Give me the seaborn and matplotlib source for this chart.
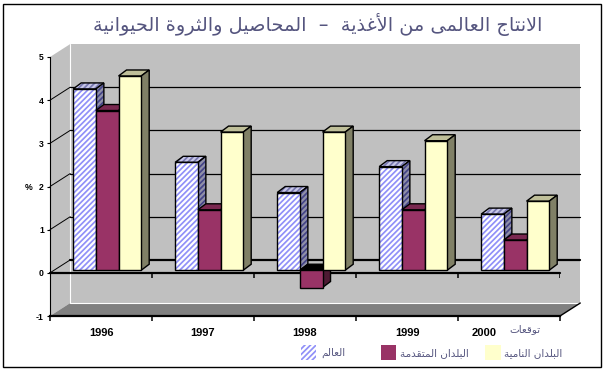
import numpy as np
import pandas as pd
import matplotlib
matplotlib.use("Agg")
import matplotlib.pyplot as plt
from matplotlib.patches import Polygon, Rectangle
from matplotlib.transforms import Affine2D
from matplotlib.ticker import FixedLocator
import seaborn as sns

years = ["1996", "1997", "1998", "1999", "2000"]
world = [4.2, 2.5, 1.8, 2.4, 1.3]
developed = [3.7, 1.4, -0.4, 1.4, 0.7]
developing = [4.5, 3.2, 3.2, 3.0, 1.6]
series_names = ["العالم", "البلدان المتقدمة", "البلدان النامية"]
title_text = "الانتاج العالمى من الأغذية  –  المحاصيل والثروة الحيوانية"
forecast_text = "توقعات"

W, H = 603, 371
TEXT = "#55557f"
HATCH = "//////"


FORMS = {
    "ا": (0xFE8D, 0xFE8E), "أ": (0xFE83, 0xFE84), "ب": (0xFE8F, 0xFE90, 0xFE91, 0xFE92),
    "ة": (0xFE93, 0xFE94), "ت": (0xFE95, 0xFE96, 0xFE97, 0xFE98), "ث": (0xFE99, 0xFE9A, 0xFE9B, 0xFE9C),
    "ج": (0xFE9D, 0xFE9E, 0xFE9F, 0xFEA0), "ح": (0xFEA1, 0xFEA2, 0xFEA3, 0xFEA4),
    "د": (0xFEA9, 0xFEAA), "ذ": (0xFEAB, 0xFEAC), "ر": (0xFEAD, 0xFEAE),
    "ص": (0xFEB9, 0xFEBA, 0xFEBB, 0xFEBC), "ع": (0xFEC9, 0xFECA, 0xFECB, 0xFECC),
    "غ": (0xFECD, 0xFECE, 0xFECF, 0xFED0), "ف": (0xFED1, 0xFED2, 0xFED3, 0xFED4),
    "ق": (0xFED5, 0xFED6, 0xFED7, 0xFED8), "ل": (0xFEDD, 0xFEDE, 0xFEDF, 0xFEE0),
    "م": (0xFEE1, 0xFEE2, 0xFEE3, 0xFEE4), "ن": (0xFEE5, 0xFEE6, 0xFEE7, 0xFEE8),
    "ه": (0xFEE9, 0xFEEA, 0xFEEB, 0xFEEC), "و": (0xFEED, 0xFEEE), "ى": (0xFEEF, 0xFEF0),
    "ي": (0xFEF1, 0xFEF2, 0xFEF3, 0xFEF4),
}
LAM_ALEF = {"ا": (0xFEFB, 0xFEFC), "أ": (0xFEF7, 0xFEF8)}


def shape(text):
    """Contextual Arabic shaping into presentation forms, in visual order."""
    out, i, prev_joins = [], 0, False
    while i < len(text):
        c = text[i]
        if c not in FORMS:
            out.append(c)
            prev_joins = False
            i += 1
            continue
        if c == "ل" and i + 1 < len(text) and text[i + 1] in LAM_ALEF:
            out.append(chr(LAM_ALEF[text[i + 1]][1 if prev_joins else 0]))
            prev_joins = False
            i += 2
            continue
        f = FORMS[c]
        nxt = text[i + 1] if i + 1 < len(text) else ""
        next_joins = len(f) == 4 and nxt in FORMS
        if prev_joins and next_joins:
            g = f[3]
        elif prev_joins:
            g = f[1]
        elif next_joins:
            g = f[2]
        else:
            g = f[0]
        out.append(chr(g))
        prev_joins = next_joins
        i += 1
    return "".join(reversed(out))


sns.set_theme(style="white")
plt.rcParams["font.family"] = ["Liberation Sans", "DejaVu Sans"]
plt.rcParams["hatch.linewidth"] = 1.25

fig = plt.figure(figsize=(W / 100, H / 100), dpi=100, facecolor="white")
ax = fig.add_axes([50 / W, 1 - 316 / H, 510 / W, 259 / H])
ax.patch.set_alpha(0)

df = pd.DataFrame({
    "year": years * 3,
    "series": np.repeat(series_names, 5),
    "value": world + developed + developing,
})
sns.barplot(data=df, x="year", y="value", hue="series", hue_order=series_names,
            palette=["white", "#993366", "#ffffcc"], width=2 / 3, gap=0,
            saturation=1, legend=False, ax=ax)
ax.set_xlim(-0.5, 4.5)
ax.set_ylim(-1, 5)
ax.set_xlabel("")
ax.set_ylabel("")

PX = 1 / 102          # one pixel along x, in category units
PY = 1 / 43.17        # one pixel along y, in value units
DX, DY = 20.3 * PX, 13 * PY      # depth of the box
SX, SY = 6.2 * PX, 2.6 * PY      # front plane of the bars vs axis
BAR_DX, BAR_DY = 8 * PX, 6 * PY  # depth of each bar

x0, x1, y0, y1 = -0.5, 4.5, -1, 5


def poly(pts, z, **kw):
    p = Polygon(pts, closed=True, clip_on=False, zorder=z, **kw)
    ax.add_patch(p)
    return p


# walls and floor
poly([(x0 + DX, y0 + DY), (x1 + DX, y0 + DY), (x1 + DX, y1 + DY), (x0 + DX, y1 + DY)], 0.1, fc="#c0c0c0", lw=0)
poly([(x0, y0), (x0 + DX, y0 + DY), (x0 + DX, y1 + DY), (x0, y1)], 0.1, fc="#c0c0c0", lw=0)
poly([(x0, y0), (x0 + DX, y0 + DY), (x1 + DX, y0 + DY), (x1, y0)], 0.2, fc="#808080", lw=0)
ax.plot([x0 + DX, x0 + DX, x1 + DX], [y1 + DY, y0 + DY, y0 + DY], color="white", lw=0.8, zorder=0.3, clip_on=False)
ax.plot([x1, x1 + DX], [y0, y0 + DY], color="black", lw=1, zorder=0.3, clip_on=False)

# gridlines on the back wall and their slanted continuations on the left wall
for v in range(0, 5):
    lw = 1.6 if v == 0 else 0.9
    ax.plot([x0 + DX, x1 + DX], [v + DY, v + DY], color="black", lw=lw, zorder=0.4, clip_on=False)
    ax.plot([x0, x0 + DX], [v, v + DY], color="black", lw=0.7, zorder=0.4, clip_on=False)

# front zero line with its ticks
ax.plot([x0, x1], [0, 0], color="black", lw=1.6, zorder=1, clip_on=False)
ax.vlines(np.arange(x0, x1 + 1), -5 * PY, 0, color="black", lw=1.1, zorder=1)

STYLES = [
    dict(top=("#c8c8e8", "#7878b0"), side=("#9090a8", "#444488")),
    dict(top=("#7a2850", None), side=("#4d1a33", None)),
    dict(top=("#bfbf99", None), side=("#808066", None)),
]


def face(pts, z, fc, hc):
    if hc:
        poly(pts, z, fc=fc, ec=hc, hatch=HATCH, lw=0)
    else:
        poly(pts, z, fc=fc, lw=0)
    poly(pts, z, fill=False, ec="black", lw=1.0)


for h, cont in enumerate(ax.containers):
    st = STYLES[h]
    for bar in cont:
        bar.set_x(bar.get_x() + SX)
        bar.set_y(bar.get_y() + SY)
        bx, by, bw, bh = bar.get_x(), bar.get_y(), bar.get_width(), bar.get_height()
        low, high = min(by, by + bh), max(by, by + bh)
        top_fc = "black" if bh < 0 else st["top"][0]
        face([(bx, high), (bx + BAR_DX, high + BAR_DY), (bx + bw + BAR_DX, high + BAR_DY), (bx + bw, high)],
             5 + h, top_fc, None if bh < 0 else st["top"][1])
        face([(bx + bw, low), (bx + bw + BAR_DX, low + BAR_DY), (bx + bw + BAR_DX, high + BAR_DY), (bx + bw, high)],
             5 + h, *st["side"])
        bar.set_zorder(5.5 + h)
        bar.set_linewidth(0)
        bar.set_clip_on(False)
        if h == 0:
            bar.set_edgecolor("#9090f8")
            bar.set_hatch(HATCH)
        poly([(bx, low), (bx + bw, low), (bx + bw, high), (bx, high)], 5.6 + h, fill=False, ec="black", lw=1.0)

# axes frame and ticks
for s in ("top", "right"):
    ax.spines[s].set_visible(False)
ax.spines["left"].set_linewidth(0.8)
ax.spines["left"].set_color("black")
ax.spines["bottom"].set_linewidth(1.6)
ax.spines["bottom"].set_color("black")
ax.set_yticks(range(-1, 6))
ax.set_yticklabels(["-1", "0", "1", "2", "3", "4", "5"], fontsize=6.2, fontweight="bold", color="black")
ax.tick_params(axis="y", left=True, length=2.4, width=0.8, color="black", pad=2)
ax.set_xticks(range(5))
ax.set_xticklabels(years, fontsize=8, fontweight="bold", color="black")
ax.xaxis.set_minor_locator(FixedLocator(np.arange(x0, x1 + 1)))
ax.tick_params(axis="x", which="major", bottom=False, length=0, pad=8.5)
ax.tick_params(axis="x", which="minor", bottom=True, length=3.6, width=1.1, color="black")
last = ax.get_xticklabels()[-1]
last.set_transform(last.get_transform() + Affine2D().translate(-25, 0))
ax.grid(False)


def ftext(px, py, s, **kw):
    fig.text(px / W, 1 - py / H, s, va="center", **kw)


ftext(29, 187, "%", fontsize=6.2, fontweight="bold", color="black", ha="center")
ftext(317.5, 25, shape(title_text), fontsize=13.9, color=TEXT, ha="center", family="DejaVu Sans")
ftext(525, 329, shape(forecast_text), fontsize=7.5, color=TEXT, ha="center", family="DejaVu Sans")

# legend
swatches = [(301, 15), (381, 15), (485, 16)]
label_centres = [333, 434, 533.5]
fills = ["white", "#993366", "#ffffcc"]
for i, ((sx, sw), lc) in enumerate(zip(swatches, label_centres)):
    r = Rectangle((sx / W, 1 - 360 / H), sw / W, 15 / H, transform=fig.transFigure,
                  fc=fills[i], lw=0, ec="#9090f8" if i == 0 else None, hatch=HATCH if i == 0 else None)
    fig.add_artist(r)
    ftext(lc, 353, shape(series_names[i]), fontsize=7.5, color=TEXT, ha="center", family="DejaVu Sans")

# outer frame
fig.add_artist(Rectangle((3.5 / W, 1 - 367 / H), 597 / W, 363.5 / H, transform=fig.transFigure,
                         fill=False, ec="black", lw=1))

fig.savefig("out.png", dpi=100, facecolor="white")
